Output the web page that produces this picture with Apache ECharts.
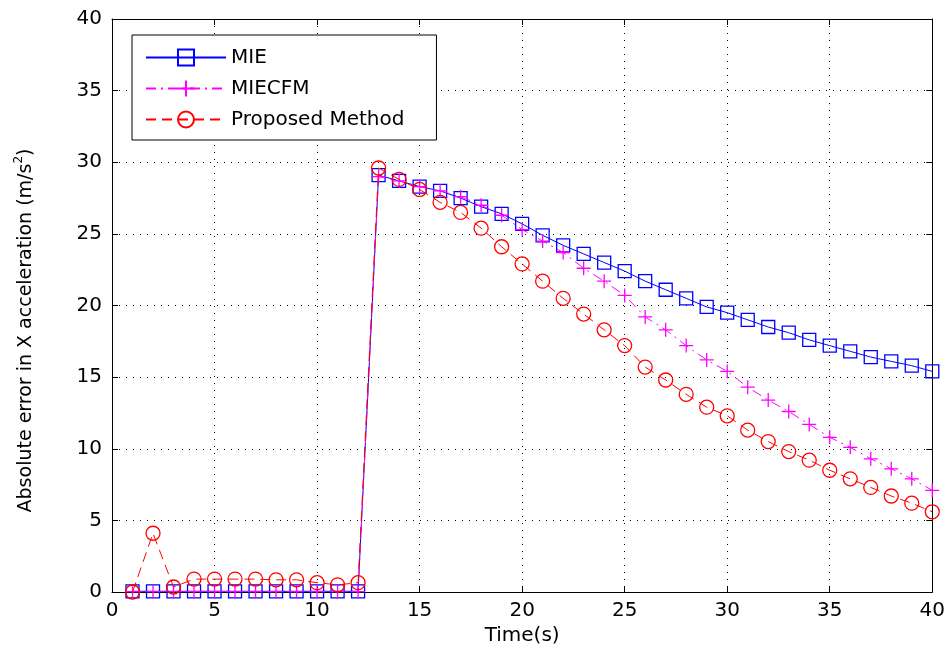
<!DOCTYPE html>
<html>
<head>
<meta charset="utf-8">
<script src="https://cdn.jsdelivr.net/npm/echarts@6/dist/echarts.min.js"></script>
<style>
html,body{margin:0;padding:0;background:#fff;}
#chart{width:948px;height:652px;}
</style>
</head>
<body>
<div id="chart"></div>
<script>
var timeSec = [1,2,3,4,5,6,7,8,9,10,11,12,13,14,15,16,17,18,19,20,21,22,23,24,25,26,27,28,29,30,31,32,33,34,35,36,37,38,39,40];
var mie = [0.05,0.05,0.05,0.05,0.05,0.05,0.05,0.05,0.05,0.05,0.05,0.05,29.1,28.7,28.3,28.0,27.5,26.9,26.4,25.7,24.9,24.2,23.6,23.0,22.4,21.7,21.1,20.5,19.9,19.5,19.0,18.5,18.1,17.6,17.2,16.8,16.4,16.1,15.8,15.4];
var miecfm = [0.02,0.02,0.02,0.02,0.02,0.02,0.02,0.02,0.02,0.02,0.02,0.02,29.0,28.7,28.3,28.0,27.6,27.0,26.3,25.3,24.5,23.7,22.6,21.7,20.7,19.2,18.3,17.2,16.2,15.4,14.3,13.4,12.6,11.7,10.8,10.1,9.3,8.6,7.9,7.1];
var proposed = [0.0,4.1,0.35,0.9,0.9,0.9,0.9,0.85,0.85,0.65,0.5,0.65,29.6,28.8,28.1,27.2,26.5,25.4,24.1,22.9,21.7,20.5,19.4,18.3,17.2,15.7,14.8,13.8,12.9,12.3,11.3,10.5,9.8,9.2,8.5,7.9,7.3,6.7,6.2,5.6];
var xTicks = [0,5,10,15,20,25,30,35,40];
var yTicks = [0,5,10,15,20,25,30,35,40];
var seriesNames = ['MIE','MIECFM','Proposed Method'];

function pairs(xs, ys){ return xs.map(function(x,i){ return [x, ys[i]]; }); }

var FONT = 'DejaVu Sans';
var chart = echarts.init(document.getElementById('chart'), null, {renderer:'canvas'});

function baseAxis(pos, labels, extra){
  var a = {
    type:'value', position:pos, min:0, max:40, interval:5,
    axisLine:{show:true, onZero:false, lineStyle:{color:'#000', width:1}},
    axisTick:{show:true, inside:true, length:6, lineStyle:{color:'#000'}},
    splitLine:{show:false},
    axisLabel:{show:labels, color:'#000', fontFamily:FONT, fontSize:20}
  };
  for (var k in extra) a[k] = extra[k];
  return a;
}

var option = {
  animation:false,
  backgroundColor:'#fff',
  grid:{left:112, right:12, top:19, bottom:60, show:false},
  legend:{
    data:seriesNames,
    orient:'vertical', left:132, top:35,
    itemWidth:80, itemHeight:20, itemGap:10,
    padding:[12,32,10,13],
    borderColor:'#000', borderWidth:1, backgroundColor:'#fff',
    textStyle:{color:'#000', fontFamily:FONT, fontSize:20},
    selectedMode:false
  },
  xAxis:[
    baseAxis('bottom', true, {
      name:'Time(s)', nameLocation:'middle', nameGap:33,
      nameTextStyle:{color:'#000', fontFamily:FONT, fontSize:20},
      axisLabel:{show:true, color:'#000', fontFamily:FONT, fontSize:20, margin:9,
        formatter:function(v){ return xTicks.indexOf(v)>=0 ? String(v) : ''; }},
      splitLine:{show:true, lineStyle:{color:'#000', type:[1,6], width:1}}
    }),
    baseAxis('top', false, {})
  ],
  yAxis:[
    baseAxis('left', true, {
      name:'Absolute error in X acceleration (m/s{sup|2})',
      nameLocation:'middle', nameGap:73, nameRotate:90,
      nameTextStyle:{color:'#000', fontFamily:FONT, fontSize:19, padding:[0,50,0,0],
        rich:{sup:{fontSize:12, fontFamily:FONT, color:'#000', verticalAlign:'top', lineHeight:26}}},
      axisLabel:{show:true, color:'#000', fontFamily:FONT, fontSize:20, margin:10,
        formatter:function(v){ return yTicks.indexOf(v)>=0 ? String(v) : ''; }},
      splitLine:{show:true, lineStyle:{color:'#000', type:[1,6], width:1}}
    }),
    baseAxis('right', false, {})
  ],
  series:[
    {
      name:seriesNames[0], type:'line', data:pairs(timeSec, mie),
      symbol:'rect', symbolSize:13,
      lineStyle:{color:'#0000ff', width:1, type:'solid'},
      itemStyle:{color:'none', borderColor:'#0000ff', borderWidth:1.3},
      emphasis:{disabled:true}, z:2
    },
    {
      name:seriesNames[1], type:'line', data:pairs(timeSec, miecfm),
      symbol:'path://M5,0L5,10M0,5L10,5', symbolSize:14,
      lineStyle:{color:'#ff00ff', width:1, type:[10,5,2,5]},
      itemStyle:{color:'none', borderColor:'#ff00ff', borderWidth:1.3},
      emphasis:{disabled:true}, z:3
    },
    {
      name:seriesNames[2], type:'line', data:pairs(timeSec, proposed),
      symbol:'circle', symbolSize:14,
      lineStyle:{color:'#ff0000', width:1, type:[10,6]},
      itemStyle:{color:'none', borderColor:'#ff0000', borderWidth:1.3},
      emphasis:{disabled:true}, z:4
    }
  ]
};
chart.setOption(option);
</script>
</body>
</html>
